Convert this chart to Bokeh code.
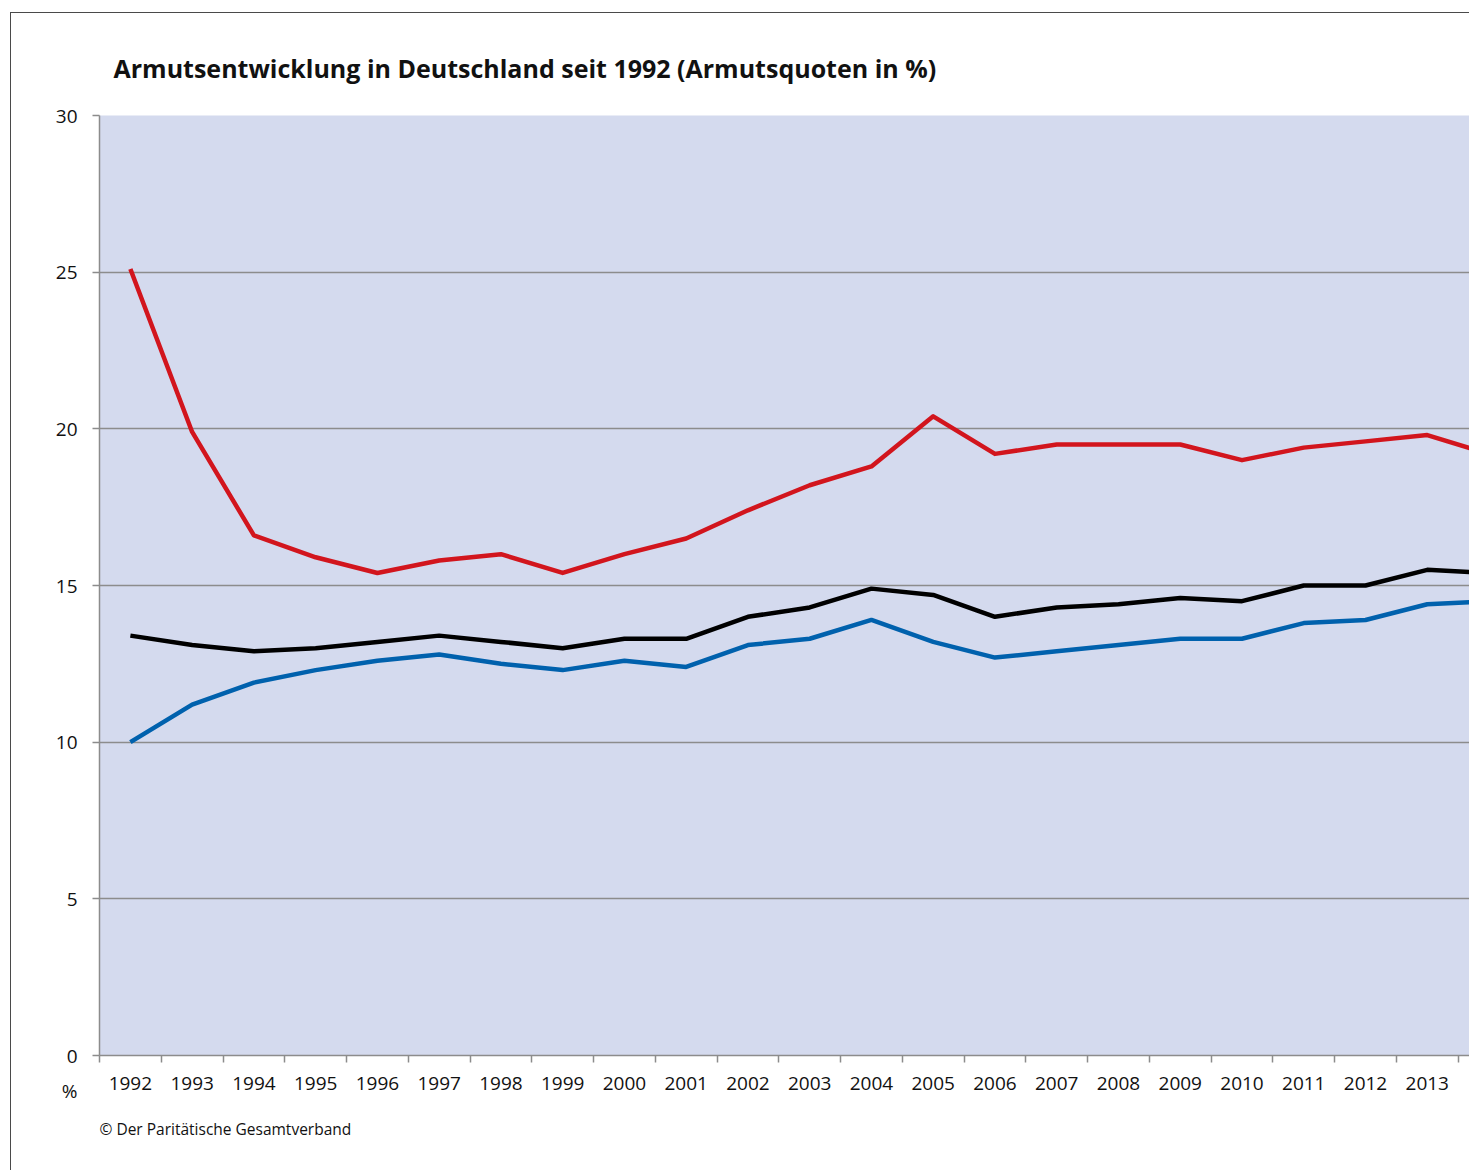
from bokeh.plotting import figure
from bokeh.models import FixedTicker, Range1d, Title
from bokeh.embed import file_html
from bokeh.resources import INLINE

title_text = "Armutsentwicklung in Deutschland seit 1992 (Armutsquoten in %)"
source_text = "\u00a9 Der Parit\u00e4tische Gesamtverband"
unit_text = "%"

years = list(range(1992, 2015))
ost = [25.1, 19.9, 16.6, 15.9, 15.4, 15.8, 16.0, 15.4, 16.0, 16.5, 17.4, 18.2,
       18.8, 20.4, 19.2, 19.5, 19.5, 19.5, 19.0, 19.4, 19.6, 19.8, 19.2]
gesamt = [13.4, 13.1, 12.9, 13.0, 13.2, 13.4, 13.2, 13.0, 13.3, 13.3, 14.0, 14.3,
          14.9, 14.7, 14.0, 14.3, 14.4, 14.6, 14.5, 15.0, 15.0, 15.5, 15.4]
west = [10.0, 11.2, 11.9, 12.3, 12.6, 12.8, 12.5, 12.3, 12.6, 12.4, 13.1, 13.3,
        13.9, 13.2, 12.7, 12.9, 13.1, 13.3, 13.3, 13.8, 13.9, 14.4, 14.5]
y_ticks = [0, 5, 10, 15, 20, 25, 30]

FONT = "Open Sans"
GRID = "#8C8C8C"
TXT = "#111111"

# outer frame of the original graphic: left/top border, figure offset inside it
OFF_X, OFF_Y, BW = 10, 12, 1
W, H = 1470 - OFF_X - BW, 1171 - OFF_Y - BW
p = figure(width=W, height=H, output_backend="svg", toolbar_location=None,
           x_range=Range1d(1991.5, 2013.70), y_range=Range1d(0, 30),
           min_border_left=99 - OFF_X - BW, min_border_right=0,
           min_border_top=115 - OFF_Y - BW, min_border_bottom=H - (1055 - OFF_Y - BW))
p.margin = (OFF_Y, 0, 0, OFF_X)
p.styles = {"border-left": "%dpx solid #4A4A4A" % BW, "border-top": "%dpx solid #4A4A4A" % BW}
p.background_fill_color = "#D4DAEE"
p.border_fill_color = "white"
p.outline_line_color = None

p.add_layout(Title(text=title_text, text_font=FONT, text_font_style="bold",
                   text_font_size="25px", text_color=TXT, align="left",
                   offset=14, standoff=62), "above")
p.add_layout(Title(text=source_text, text_font=FONT, text_font_style="normal",
                   text_font_size="15.5px", text_color=TXT, align="left",
                   offset=0, standoff=47), "below")

p.xgrid.visible = False
p.ygrid.ticker = FixedTicker(ticks=y_ticks)
p.ygrid.grid_line_color = GRID
p.ygrid.grid_line_width = 1.5

p.yaxis.ticker = FixedTicker(ticks=y_ticks)
p.yaxis.axis_line_color = GRID
p.yaxis.axis_line_width = 1.5
p.yaxis.major_tick_line_color = GRID
p.yaxis.major_tick_line_width = 1.5
p.yaxis.major_tick_out = 7
p.yaxis.major_tick_in = 0
p.yaxis.minor_tick_line_color = None
p.yaxis.major_label_text_font = FONT
p.yaxis.major_label_text_font_size = "19px"
p.yaxis.major_label_text_color = TXT
p.yaxis.major_label_standoff = 15
p.yaxis.major_label_text_line_height = 1.37
# the unit sign sits under the zero label
p.yaxis.major_label_overrides = {0: "\u00a0\n0\n" + unit_text}

bounds = [y - 0.5 for y in years]
p.xaxis.ticker = FixedTicker(ticks=years, minor_ticks=bounds)
p.xaxis.axis_line_color = GRID
p.xaxis.axis_line_width = 1.5
p.xaxis.major_tick_line_color = None
p.xaxis.major_tick_out = 0
p.xaxis.major_tick_in = 0
p.xaxis.minor_tick_line_color = GRID
p.xaxis.minor_tick_line_width = 1.5
p.xaxis.minor_tick_out = 7
p.xaxis.minor_tick_in = 0
p.xaxis.major_label_text_font = FONT
p.xaxis.major_label_text_font_size = "19px"
p.xaxis.major_label_text_color = TXT
p.xaxis.major_label_standoff = 14

p.line(years, west, line_color="#0061AD", line_width=4.5, line_join="round")
p.line(years, gesamt, line_color="#000000", line_width=4.5, line_join="round")
p.line(years, ost, line_color="#D2151D", line_width=4.5, line_join="round")

open("out.html", "w").write(file_html(p, INLINE))
